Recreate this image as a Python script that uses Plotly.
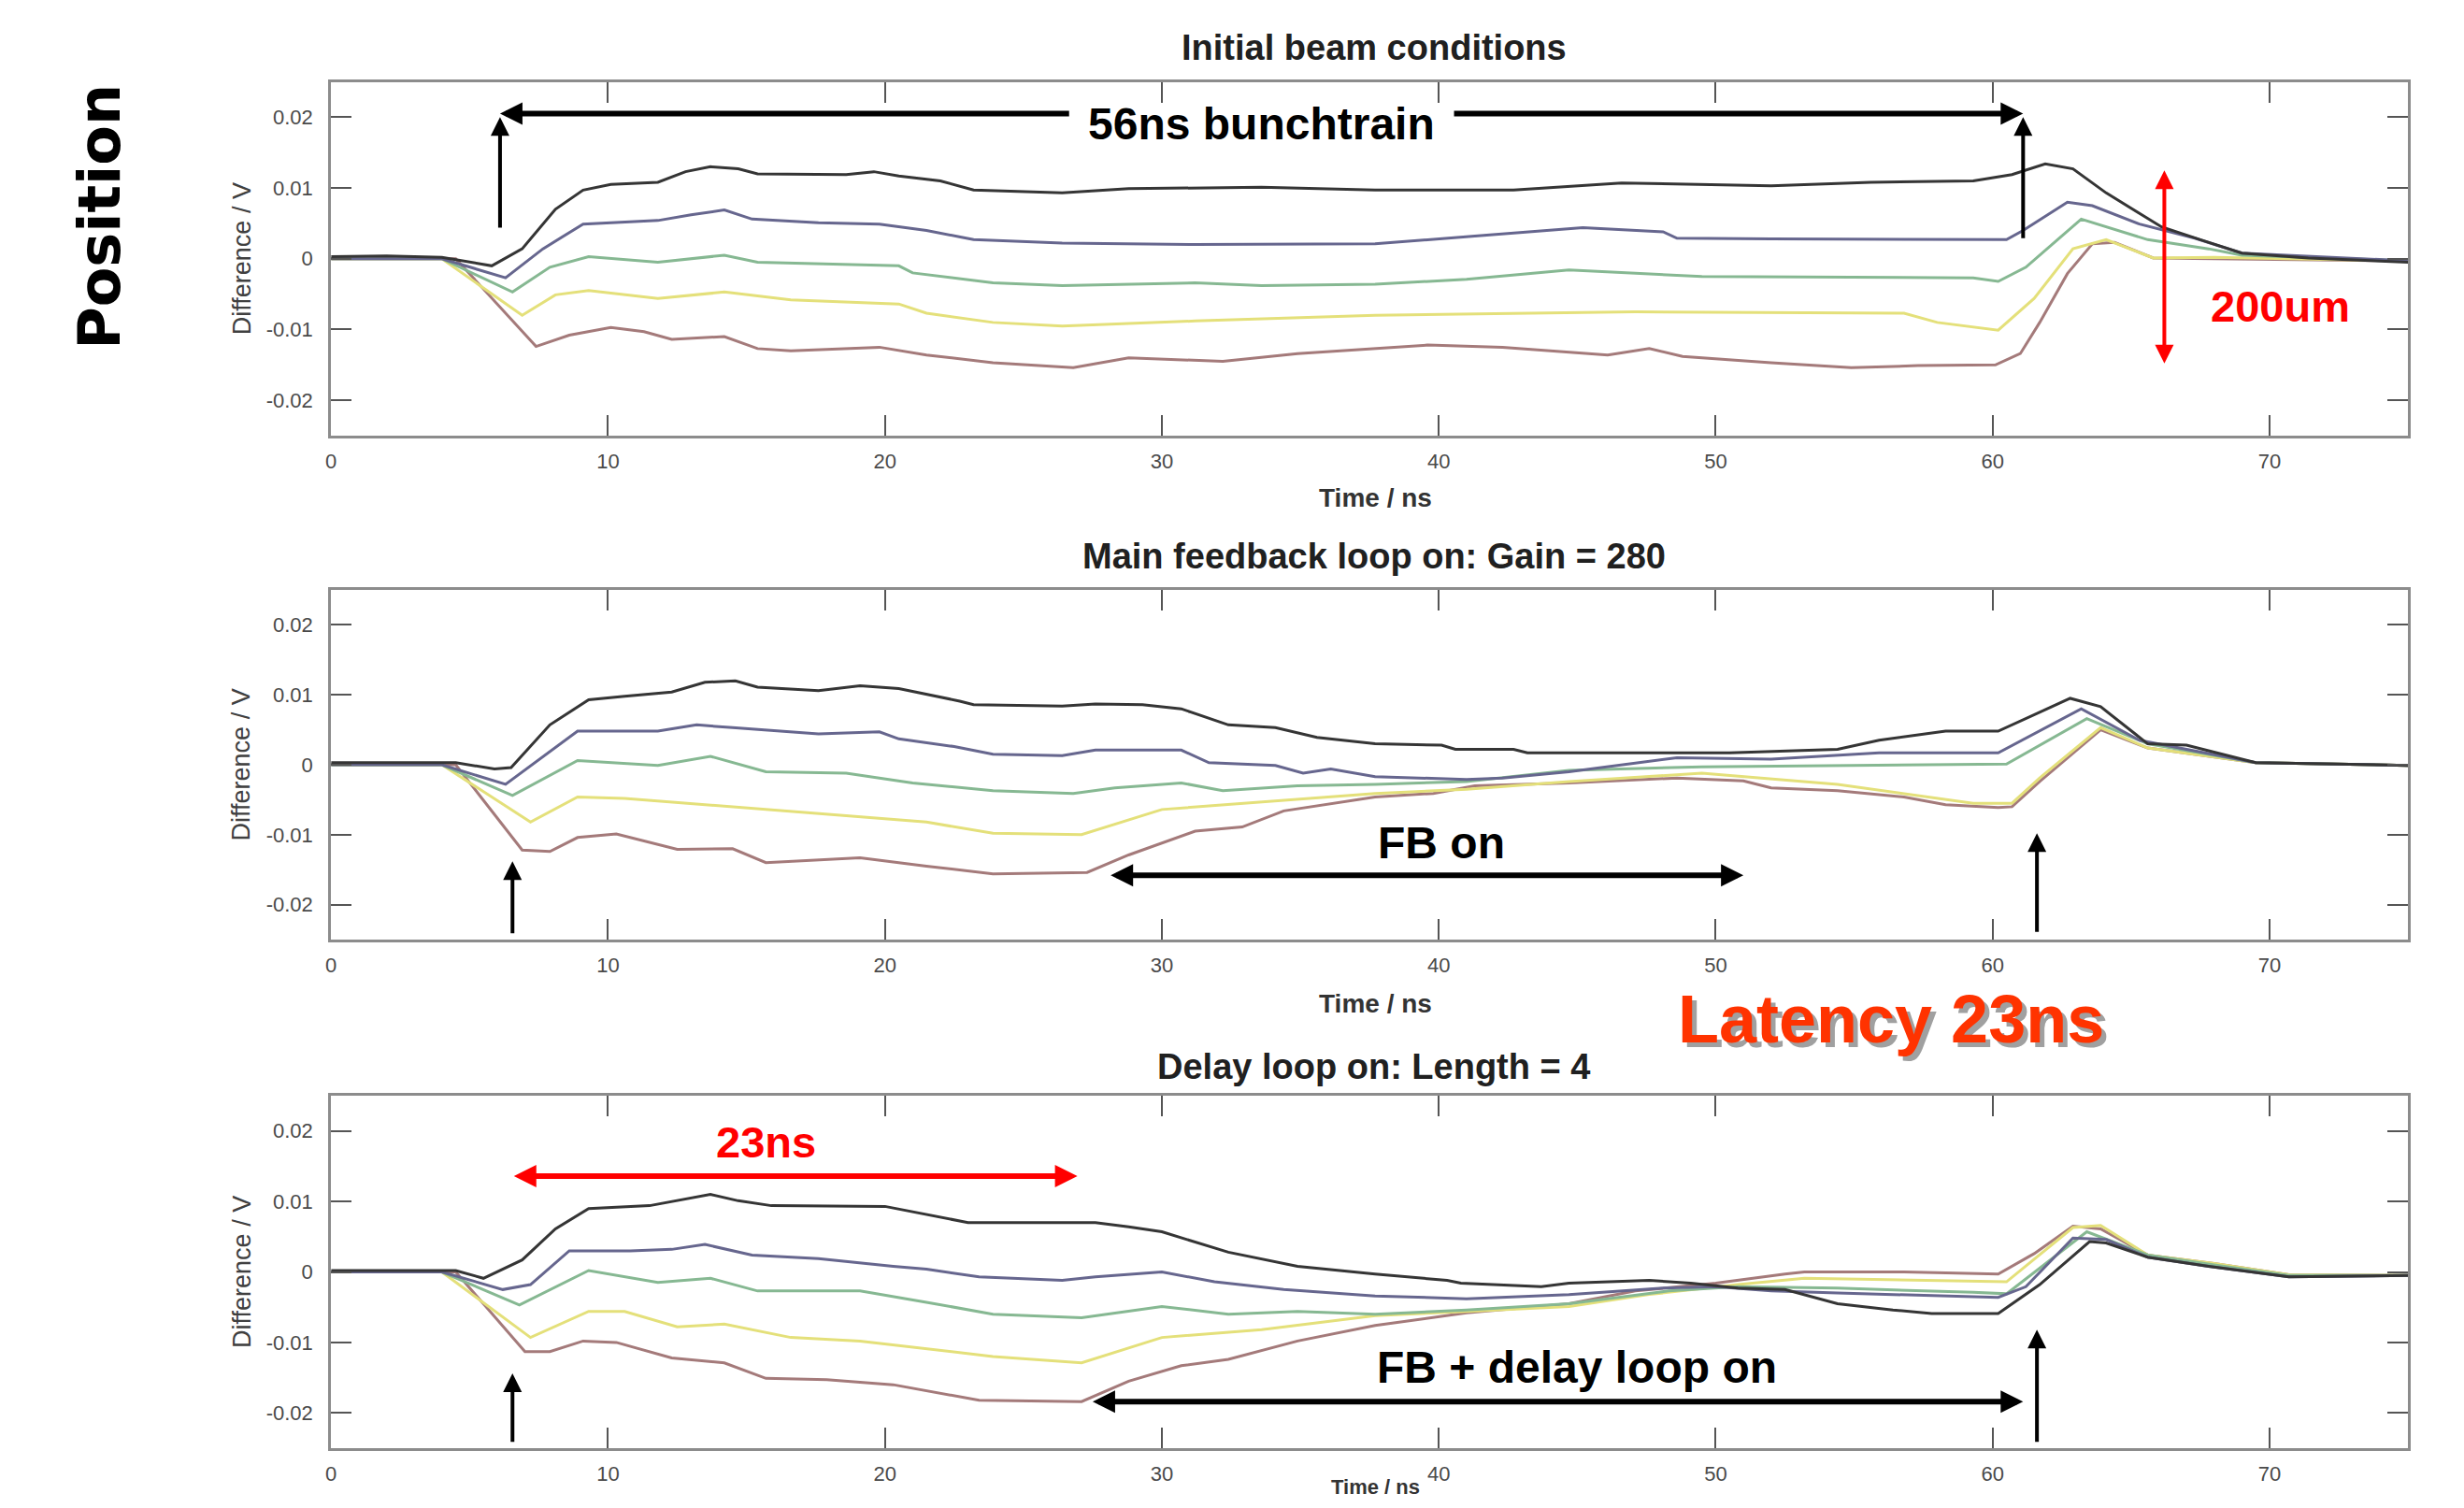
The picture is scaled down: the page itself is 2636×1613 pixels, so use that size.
import plotly.graph_objects as go

# ---------------- data ----------------
x_ticks = [0, 10, 20, 30, 40, 50, 60, 70]
y_ticks = [-0.02, -0.01, 0, 0.01, 0.02]
y_tick_text = ["-0.02", "-0.01", "0", "0.01", "0.02"]

panel_titles = ["Initial beam conditions",
                "Main feedback loop on: Gain = 280",
                "Delay loop on: Length = 4"]

# Panel 1 : initial beam conditions
p1_black_x = [0, 2, 4.0, 5.8, 6.9, 8.1, 9.1, 10.1, 11.8, 12.8, 13.7, 14.7, 15.4, 18.6, 19.6, 20.5, 22.0, 23.2, 26.4, 28.8, 33.6, 37.7, 42.7, 46.6, 52.0, 55.6, 59.3, 60.7, 61.9, 62.9, 64.1, 66.1, 67.5, 69.0, 71.4, 75]
p1_black_y = [0.0003, 0.0004, 0.0002, -0.001, 0.0014, 0.007, 0.0097, 0.0105, 0.0108, 0.0123, 0.013, 0.0127, 0.012, 0.0119, 0.0123, 0.0117, 0.011, 0.0097, 0.0093, 0.0099, 0.0101, 0.0097, 0.0097, 0.0107, 0.0103, 0.0108, 0.011, 0.0119, 0.0134, 0.0127, 0.0093, 0.0045, 0.0027, 0.0008, 0.0001, -0.0005]
p1_blue_x = [0, 4.0, 6.3, 7.65, 9.1, 11.8, 13.0, 14.2, 15.2, 17.6, 19.8, 21.5, 23.2, 26.4, 31.2, 37.7, 41.3, 45.2, 48.1, 48.6, 52.0, 60.5, 61.1, 62.7, 63.6, 65.3, 67.3, 69.0, 75]
p1_blue_y = [0.0, 0.0, -0.0027, 0.0014, 0.0049, 0.0054, 0.0062, 0.0069, 0.0056, 0.0051, 0.0049, 0.004, 0.0027, 0.0022, 0.002, 0.0021, 0.0032, 0.0044, 0.0038, 0.0029, 0.0028, 0.0027, 0.004, 0.008, 0.0075, 0.0049, 0.0029, 0.0008, -0.0003]
p1_green_x = [0, 4.0, 6.55, 7.9, 9.3, 11.8, 14.2, 15.4, 20.5, 21.0, 23.9, 26.4, 31.2, 33.6, 37.7, 41.0, 44.7, 49.5, 59.3, 60.2, 61.2, 63.2, 65.6, 67.8, 69.0, 75]
p1_green_y = [0.0, 0.0, -0.0047, -0.0012, 0.0003, -0.0005, 0.0005, -0.0005, -0.001, -0.002, -0.0034, -0.0038, -0.0034, -0.0038, -0.0036, -0.0029, -0.0016, -0.0025, -0.0027, -0.0032, -0.0012, 0.0056, 0.0027, 0.0014, 0.0005, -0.0003]
p1_yellow_x = [0, 4.0, 6.9, 8.1, 9.3, 11.8, 14.2, 16.6, 20.5, 21.5, 23.9, 26.4, 31.2, 37.7, 47.1, 56.8, 58.0, 60.2, 61.5, 62.9, 64.1, 65.8, 68.0, 75]
p1_yellow_y = [0.0, 0.0, -0.008, -0.0051, -0.0045, -0.0056, -0.0047, -0.0058, -0.0064, -0.0077, -0.009, -0.0095, -0.0088, -0.008, -0.0075, -0.0077, -0.009, -0.0101, -0.0056, 0.0014, 0.0027, 0.0001, 0.0002, -0.0003]
p1_red_x = [0, 4.5, 7.4, 8.6, 10.1, 11.3, 12.3, 14.2, 15.4, 16.6, 19.8, 21.5, 23.9, 26.8, 28.8, 32.2, 34.9, 37.7, 39.6, 42.3, 46.1, 47.6, 48.8, 52.0, 54.9, 57.3, 60.1, 61.0, 61.7, 62.7, 63.6, 64.4, 65.8, 68.0, 75]
p1_red_y = [0.0, 0.0, -0.0124, -0.0108, -0.0097, -0.0103, -0.0114, -0.011, -0.0127, -0.013, -0.0125, -0.0136, -0.0147, -0.0154, -0.014, -0.0145, -0.0134, -0.0127, -0.0122, -0.0125, -0.0136, -0.0127, -0.0138, -0.0147, -0.0154, -0.0151, -0.015, -0.0134, -0.009, -0.0021, 0.0021, 0.0023, 0.0001, 0.0, -0.0003]

# Panel 2 : main feedback loop on
p2_black_x = [0, 4.5, 5.9, 6.5, 7.9, 9.3, 10.6, 12.3, 13.5, 14.6, 15.4, 17.6, 19.1, 20.5, 22.7, 23.2, 26.4, 27.6, 29.3, 30.7, 32.4, 34.1, 35.6, 37.7, 40.1, 40.6, 42.7, 43.2, 50.5, 54.4, 55.9, 58.3, 60.2, 61.5, 62.8, 63.9, 65.6, 67.0, 69.5, 75]
p2_black_y = [0.0003, 0.0003, -0.0006, -0.0004, 0.0057, 0.0093, 0.0098, 0.0104, 0.0118, 0.012, 0.0111, 0.0106, 0.0113, 0.0109, 0.0091, 0.0086, 0.0084, 0.0087, 0.0086, 0.008, 0.0057, 0.0053, 0.0039, 0.003, 0.0028, 0.0022, 0.0022, 0.0017, 0.0017, 0.0022, 0.0035, 0.0048, 0.0048, 0.0071, 0.0095, 0.0083, 0.003, 0.0028, 0.0003, -0.0001]
p2_blue_x = [0, 4.0, 6.3, 8.9, 11.8, 13.2, 14.5, 17.6, 19.8, 20.5, 22.5, 23.9, 26.4, 27.6, 30.7, 31.7, 34.1, 35.1, 36.1, 37.7, 41.0, 42.3, 44.7, 48.6, 52.0, 55.9, 60.2, 63.2, 65.3, 69.5, 75]
p2_blue_y = [0.0, 0.0, -0.0028, 0.0048, 0.0048, 0.0057, 0.0053, 0.0044, 0.0047, 0.0037, 0.0026, 0.0015, 0.0013, 0.0021, 0.0021, 0.0003, -0.0001, -0.0012, -0.0006, -0.0017, -0.0021, -0.0019, -0.001, 0.001, 0.0008, 0.0017, 0.0017, 0.008, 0.0035, 0.0003, -0.0001]
p2_green_x = [0, 4.0, 6.55, 8.9, 11.8, 13.7, 15.7, 18.6, 21.0, 23.9, 26.8, 28.3, 30.7, 32.2, 34.9, 37.7, 41.0, 44.7, 49.5, 54.4, 60.5, 63.4, 65.6, 69.5, 75]
p2_green_y = [0.0, 0.0, -0.0044, 0.0006, -0.0001, 0.0012, -0.001, -0.0012, -0.0026, -0.0037, -0.0041, -0.0033, -0.0026, -0.0037, -0.003, -0.0028, -0.0024, -0.0008, -0.0003, -0.0001, 0.0001, 0.0066, 0.003, 0.0003, -0.0001]
p2_yellow_x = [0, 4.0, 7.2, 8.9, 10.6, 14.2, 17.9, 21.5, 23.9, 27.1, 30.0, 33.6, 37.7, 41.0, 44.7, 49.5, 54.4, 59.3, 60.7, 61.7, 63.9, 65.6, 69.5, 75]
p2_yellow_y = [0.0, 0.0, -0.0082, -0.0046, -0.0048, -0.0059, -0.0071, -0.0082, -0.0098, -0.01, -0.0064, -0.0053, -0.0041, -0.0035, -0.0024, -0.0012, -0.0028, -0.0055, -0.0055, -0.0019, 0.0053, 0.0024, 0.0003, -0.0001]
p2_red_x = [0, 4.5, 6.9, 7.9, 8.9, 10.3, 12.5, 14.5, 15.7, 19.1, 21.5, 23.9, 27.3, 28.8, 31.2, 32.9, 34.4, 37.7, 39.8, 41.3, 44.7, 48.6, 51.0, 52.0, 54.4, 56.8, 58.3, 60.2, 60.7, 61.7, 63.9, 65.6, 69.5, 75]
p2_red_y = [0.0, 0.0, -0.0122, -0.0124, -0.0104, -0.0099, -0.0121, -0.012, -0.014, -0.0133, -0.0145, -0.0156, -0.0154, -0.0129, -0.0095, -0.0089, -0.0066, -0.0046, -0.0041, -0.003, -0.0026, -0.0019, -0.0023, -0.0033, -0.0037, -0.0046, -0.0057, -0.0061, -0.006, -0.0024, 0.005, 0.0024, 0.0003, -0.0001]

# Panel 3 : delay loop on
p3_black_x = [0, 4.5, 5.5, 6.9, 8.1, 9.3, 11.5, 12.7, 13.7, 14.7, 15.9, 20.0, 21.5, 23.0, 27.6, 28.8, 30.0, 32.4, 34.9, 37.7, 40.3, 40.8, 43.7, 44.7, 47.6, 49.1, 50.8, 52.5, 54.4, 56.4, 57.8, 60.2, 61.7, 63.5, 64.1, 65.6, 67.8, 70.7, 75]
p3_black_y = [0.0002, 0.0002, -0.0009, 0.0017, 0.0061, 0.009, 0.0094, 0.0103, 0.011, 0.0101, 0.0094, 0.0093, 0.0081, 0.007, 0.007, 0.0064, 0.0057, 0.0028, 0.0008, -0.0003, -0.0012, -0.0016, -0.0021, -0.0016, -0.0012, -0.0016, -0.0023, -0.0025, -0.0045, -0.0054, -0.0059, -0.0059, -0.0018, 0.0043, 0.0041, 0.0021, 0.0008, -0.0007, -0.0005]
p3_blue_x = [0, 4.0, 6.2, 7.2, 8.6, 10.8, 12.3, 13.5, 15.2, 17.6, 20.3, 21.5, 23.4, 26.4, 27.6, 30.0, 31.9, 34.4, 37.7, 41.0, 44.7, 48.1, 50.0, 52.0, 54.4, 60.2, 61.2, 62.9, 64.1, 65.6, 67.8, 70.7, 75]
p3_blue_y = [0.0, 0.0, -0.0025, -0.0018, 0.003, 0.003, 0.0032, 0.0039, 0.0024, 0.0019, 0.0008, 0.0004, -0.0007, -0.0012, -0.0007, 0.0, -0.0014, -0.0025, -0.0034, -0.0038, -0.0032, -0.0023, -0.0021, -0.0027, -0.003, -0.0036, -0.0021, 0.0048, 0.0046, 0.0021, 0.0008, -0.0007, -0.0005]
p3_green_x = [0, 4.0, 6.8, 9.3, 11.8, 13.7, 15.4, 19.1, 21.5, 23.9, 27.1, 30.0, 32.4, 34.9, 37.7, 41.0, 44.7, 48.3, 50.8, 54.4, 59.3, 60.5, 63.4, 65.6, 68.0, 70.7, 75]
p3_green_y = [0.0, 0.0, -0.0047, 0.0002, -0.0015, -0.0009, -0.0027, -0.0027, -0.0043, -0.006, -0.0065, -0.0049, -0.006, -0.0056, -0.006, -0.0054, -0.0045, -0.0027, -0.0021, -0.0023, -0.0029, -0.0031, 0.0057, 0.0024, 0.001, -0.0005, -0.0005]
p3_yellow_x = [0, 4.0, 7.2, 9.3, 10.6, 12.5, 14.2, 16.6, 19.1, 21.5, 23.9, 27.1, 30.0, 33.6, 37.7, 41.0, 44.7, 47.6, 50.8, 53.2, 59.3, 60.5, 62.9, 63.9, 65.6, 68.0, 70.7, 75]
p3_yellow_y = [0.0, 0.0, -0.0093, -0.0056, -0.0056, -0.0078, -0.0074, -0.0093, -0.0098, -0.0109, -0.012, -0.0129, -0.0093, -0.0082, -0.0062, -0.0056, -0.0049, -0.0032, -0.0018, -0.0009, -0.0014, -0.0014, 0.0063, 0.0066, 0.0024, 0.0012, -0.0004, -0.0005]
p3_red_x = [0, 4.5, 7.0, 7.9, 9.1, 10.3, 12.3, 14.2, 15.7, 17.9, 20.3, 23.4, 27.1, 28.8, 30.7, 32.4, 34.9, 37.7, 41.0, 44.7, 47.1, 50.0, 52.5, 53.2, 56.8, 60.2, 61.5, 62.9, 63.9, 65.6, 68.0, 70.7, 75]
p3_red_y = [0.0, 0.0, -0.0113, -0.0113, -0.0098, -0.01, -0.0122, -0.0129, -0.0151, -0.0153, -0.016, -0.0182, -0.0184, -0.0155, -0.0133, -0.0124, -0.0098, -0.0076, -0.0058, -0.0045, -0.0027, -0.0016, -0.0003, 0.0, 0.0, -0.0003, 0.0026, 0.0065, 0.0061, 0.0024, 0.0012, -0.0004, -0.0005]

trace_names = ["black", "blue", "green", "yellow", "red"]
trace_colors = ["#353535", "#66668e", "#86b892", "#e4e07a", "#a47a7a"]

panels = [
    [(p1_black_x, p1_black_y), (p1_blue_x, p1_blue_y), (p1_green_x, p1_green_y),
     (p1_yellow_x, p1_yellow_y), (p1_red_x, p1_red_y)],
    [(p2_black_x, p2_black_y), (p2_blue_x, p2_blue_y), (p2_green_x, p2_green_y),
     (p2_yellow_x, p2_yellow_y), (p2_red_x, p2_red_y)],
    [(p3_black_x, p3_black_y), (p3_blue_x, p3_blue_y), (p3_green_x, p3_green_y),
     (p3_yellow_x, p3_yellow_y), (p3_red_x, p3_red_y)],
]

# ---------------- figure ----------------
PAGE_MARGIN = 8                 # default body margin of the html page
W, H = 2636 - 2 * PAGE_MARGIN, 1613 - 2 * PAGE_MARGIN
FONT = "Liberation Sans, Arial, sans-serif"

def py(p):
    return 1 - (p - PAGE_MARGIN) / H

def pxx(p):
    return (p - PAGE_MARGIN) / W

x_dom = [pxx(349), pxx(2576)]
y_doms = [[py(466), py(87.5)], [py(1005), py(631)], [py(1549), py(1172)]]

fig = go.Figure()

# draw in reverse so black is on top
for i, panel in enumerate(panels):
    xa = "x" if i == 0 else f"x{i+1}"
    ya = "y" if i == 0 else f"y{i+1}"
    for j in [4, 3, 2, 1, 0]:
        xs, ys = panel[j]
        fig.add_trace(go.Scatter(x=xs, y=ys, mode="lines", name=trace_names[j],
                                 line=dict(color=trace_colors[j], width=3),
                                 xaxis=xa, yaxis=ya, showlegend=False,
                                 hoverinfo="skip"))

axis_common = dict(showgrid=False, zeroline=False, showline=True, mirror="ticks",
                   linecolor="#8c8c8c", linewidth=3, ticks="inside", ticklen=22,
                   tickwidth=2, tickcolor="#555555",
                   tickfont=dict(family=FONT, size=22, color="#4a4a4a"))

layout = dict(width=W, height=H, margin=dict(l=0, r=0, t=0, b=0),
              paper_bgcolor="white", plot_bgcolor="white", showlegend=False)
for i in range(3):
    xk = "xaxis" if i == 0 else f"xaxis{i+1}"
    yk = "yaxis" if i == 0 else f"yaxis{i+1}"
    anchor_x = "y" if i == 0 else f"y{i+1}"
    anchor_y = "x" if i == 0 else f"x{i+1}"
    layout[xk] = dict(axis_common, domain=x_dom, range=[0, 75], anchor=anchor_x,
                      tickvals=x_ticks, ticktext=[str(v) for v in x_ticks],
                      ticklabelstandoff=6)
    layout[yk] = dict(axis_common, domain=y_doms[i], range=[-0.025, 0.025], anchor=anchor_y,
                      tickvals=y_ticks, ticktext=y_tick_text, ticklabelstandoff=12)
fig.update_layout(**layout)

ann = []
title_y = [py(51), py(595), py(1141)]
time_y = [py(532), py(1073)]
for i in range(3):
    ann.append(dict(text="<b>" + panel_titles[i] + "</b>", x=pxx(1467), y=title_y[i],
                    xref="paper", yref="paper", showarrow=False,
                    font=dict(family=FONT, size=38, color="#202020"),
                    xanchor="center", yanchor="middle"))
    if i < 2:
        ann.append(dict(text="<b>Time / ns</b>", x=pxx(1469), y=time_y[i], xref="paper", yref="paper",
                        showarrow=False, font=dict(family=FONT, size=28, color="#333333"),
                        xanchor="center", yanchor="middle"))
    else:
        ann.append(dict(text="<b>Time / ns</b>", x=pxx(1469), y=0.0, xref="paper", yref="paper",
                        showarrow=False, font=dict(family=FONT, size=22, color="#333333"),
                        xanchor="center", yanchor="bottom"))
    ann.append(dict(text="Difference / V", x=pxx(253), y=sum(y_doms[i]) / 2, xref="paper", yref="paper",
                    showarrow=False, textangle=-90, font=dict(family=FONT, size=27, color="#404040"),
                    xanchor="center", yanchor="middle"))

ann.append(dict(text="<b>Position</b>", x=pxx(101), y=py(232), xref="paper", yref="paper",
                showarrow=False, textangle=-90,
                font=dict(family="DejaVu Sans, Liberation Sans, sans-serif", size=62, color="black"),
                xanchor="center", yanchor="middle"))

BIG = dict(family=FONT, size=48, color="black")
RED = dict(family=FONT, size=47, color="#ff0000")

def arrow(x, y, ax, ay, n, color="black", width=5, both=False, size=0.8):
    xr = "x" if n == 1 else f"x{n}"
    yr = "y" if n == 1 else f"y{n}"
    return dict(x=x, y=y, ax=ax, ay=ay, xref=xr, yref=yr, axref=xr, ayref=yr,
                text="", showarrow=True, arrowhead=2, arrowsize=size, arrowwidth=width,
                arrowcolor=color, arrowside="end+start" if both else "end",
                startarrowhead=2, startarrowsize=size, standoff=0, startstandoff=0)

def label(text, x, y, n, font):
    xr = "x" if n == 1 else f"x{n}"
    yr = "y" if n == 1 else f"y{n}"
    return dict(text="<b>" + text + "</b>", x=x, y=y, xref=xr, yref=yr, showarrow=False,
                font=font, xanchor="center", yanchor="middle")

# panel 1 annotations
ann.append(label("56ns bunchtrain", 33.6, 0.0191, 1, BIG))
ann.append(arrow(6.1, 0.0205, 26.7, 0.0205, 1, width=6))
ann.append(arrow(61.1, 0.0205, 40.5, 0.0205, 1, width=6))
ann.append(arrow(6.1, 0.0200, 6.1, 0.0042, 1, width=4, size=1))
ann.append(arrow(61.1, 0.0200, 61.1, 0.0027, 1, width=4, size=1))
ann.append(arrow(66.2, 0.0125, 66.2, -0.015, 1, color="#ff0000", width=4, both=True, size=1))
ann.append(label("200um", 70.4, -0.0067, 1, RED))

# panel 2 annotations
ann.append(label("FB on", 40.1, -0.0111, 2, BIG))
ann.append(arrow(51.0, -0.0158, 28.1, -0.0158, 2, width=6, both=True))
ann.append(arrow(6.55, -0.0138, 6.55, -0.0243, 2, width=4, size=1))
ann.append(arrow(61.6, -0.0098, 61.6, -0.0241, 2, width=4, size=1))

# latency label between panels 2 and 3 (with shadow)
for dx, dy, col in [(5, -5, "#a0a0a0"), (0, 0, "#ff3300")]:
    ann.append(dict(text="<b>Latency 23ns</b>", x=pxx(2022), y=py(1090), xref="paper", yref="paper",
                    showarrow=False, xshift=dx, yshift=dy,
                    font=dict(family=FONT, size=72, color=col),
                    xanchor="center", yanchor="middle"))

# panel 3 annotations
ann.append(label("23ns", 15.7, 0.0184, 3, RED))
ann.append(arrow(26.95, 0.0136, 6.55, 0.0136, 3, color="#ff0000", width=6, both=True))
ann.append(arrow(6.55, -0.0144, 6.55, -0.0243, 3, width=4, size=1))
ann.append(label("FB + delay loop on", 45.0, -0.0135, 3, BIG))
ann.append(arrow(61.1, -0.0184, 27.45, -0.0184, 3, width=6, both=True))
ann.append(arrow(61.6, -0.0082, 61.6, -0.0243, 3, width=4, size=1))

fig.update_layout(annotations=ann)
fig.write_html("out.html", config={"displayModeBar": False})
